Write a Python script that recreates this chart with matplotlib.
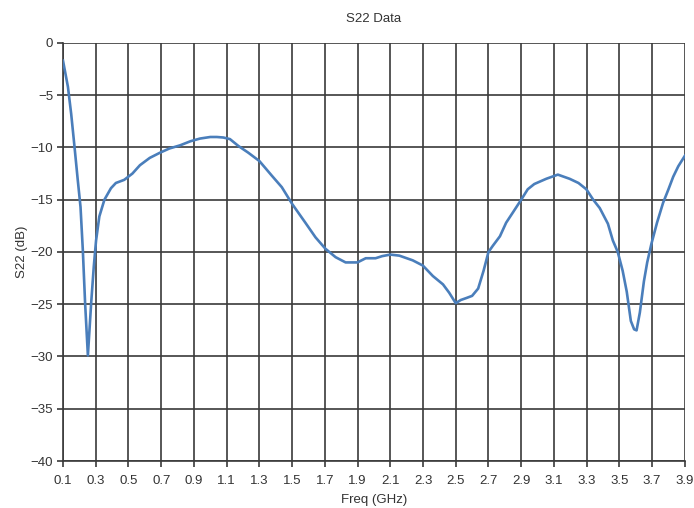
import numpy as np
import matplotlib
matplotlib.use("Agg")
import matplotlib.pyplot as plt

# S22 return loss
freq_ghz = [
    0.10, 0.13, 0.15, 0.17, 0.19, 0.207, 0.221, 0.235, 0.252, 0.272, 0.288,
    0.302, 0.322, 0.353, 0.393, 0.423, 0.474, 0.524, 0.57, 0.63, 0.693, 0.75,
    0.815, 0.88, 0.937, 1.00, 1.04, 1.08, 1.12, 1.171, 1.232, 1.30, 1.376,
    1.437, 1.50, 1.581, 1.643, 1.704, 1.766, 1.827, 1.899, 1.95, 2.01, 2.05,
    2.10, 2.155, 2.237, 2.299, 2.36, 2.422, 2.46, 2.50, 2.53, 2.566, 2.60,
    2.637, 2.67, 2.70, 2.727, 2.77, 2.808, 2.85, 2.90, 2.94, 2.98, 3.053,
    3.124, 3.196, 3.25, 3.298, 3.34, 3.38, 3.43, 3.46, 3.49, 3.52, 3.545,
    3.57, 3.59, 3.605, 3.625, 3.65, 3.67, 3.696, 3.73, 3.767, 3.80, 3.829,
    3.86, 3.90,
]
s22_db = [
    -1.7, -4.2, -6.8, -9.9, -13.1, -15.7, -19.8, -24.9, -29.9, -24.9, -21.4,
    -18.9, -16.6, -15.0, -13.9, -13.4, -13.1, -12.5, -11.7, -11.0, -10.5, -10.1,
    -9.8, -9.4, -9.15, -9.0, -9.0, -9.05, -9.2, -9.85, -10.5, -11.3, -12.7,
    -13.8, -15.4, -17.2, -18.6, -19.7, -20.5, -21.0, -21.0, -20.6, -20.6, -20.4,
    -20.25, -20.35, -20.8, -21.3, -22.3, -23.1, -23.9, -24.9, -24.6, -24.4, -24.2,
    -23.5, -21.8, -20.0, -19.4, -18.5, -17.2, -16.2, -15.0, -14.0, -13.5, -13.0,
    -12.6, -13.0, -13.4, -14.0, -15.0, -15.8, -17.3, -18.9, -20.0, -21.8, -23.8,
    -26.6, -27.4, -27.5, -25.8, -22.8, -21.0, -19.2, -17.2, -15.3, -14.0, -12.8,
    -11.8, -10.8,
]
x_ticks = [round(0.1 + 0.2 * i, 1) for i in range(20)]
y_ticks = list(range(-40, 1, 5))

plt.rcParams["font.family"] = ["Liberation Sans", "DejaVu Sans"]

fig = plt.figure(figsize=(6.94, 5.08), dpi=100)
ax = fig.add_axes([0.0908, 0.0925, 0.896, 0.823])

ax.plot(freq_ghz, s22_db, color="#4a7ebb", linewidth=1.9, zorder=3)

ax.set_xlim(0.1, 3.9)
ax.set_ylim(-40, 0)
ax.set_xticks(x_ticks)
ax.set_xticklabels([f"{t:.1f}" for t in x_ticks])
ax.set_yticks(y_ticks)

ax.grid(True, color="#3a3a3a", linewidth=1.2)
ax.set_axisbelow(True)
for side in ["top", "right"]:
    ax.spines[side].set_visible(False)
for side in ["left", "bottom"]:
    ax.spines[side].set_color("#3a3a3a")
    ax.spines[side].set_linewidth(1.2)

ax.tick_params(axis="both", direction="out", length=4, width=1.2,
               color="#3a3a3a", labelsize=9.5, labelcolor="#333333", pad=3)
ax.tick_params(axis="x", pad=6)

ax.set_title("S22 Data", fontsize=9.5, color="#333333", pad=15)
ax.set_xlabel("Freq (GHz)", fontsize=9.5, color="#333333", labelpad=5)
ax.set_ylabel("S22 (dB)", fontsize=9.5, color="#333333", labelpad=2)

fig.savefig("out.png", dpi=100)
